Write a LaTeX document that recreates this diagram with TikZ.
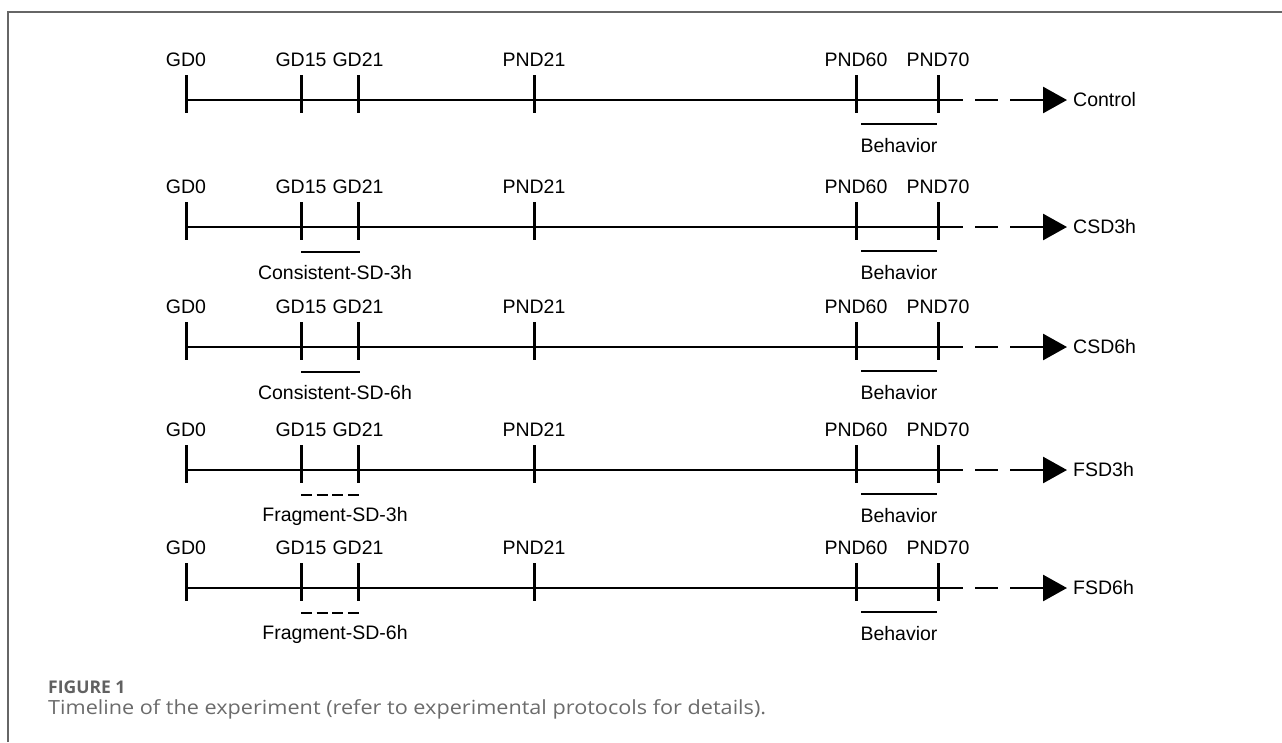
\documentclass[tikz,border=0pt]{standalone}
\usepackage{fontspec}
\setmainfont{Liberation Sans}
\newfontfamily\captionfont[FakeStretch=1.11]{Open Sans}
\newfontfamily\fignofont{Open Sans}
\usetikzlibrary{arrows.meta,positioning}

\begin{document}
\begin{tikzpicture}[x=1pt, y=-1pt,
    axis/.style={line width=2.8pt},
    tick/.style={line width=3pt},
    period/.style={line width=1.5pt},
    fragment/.style={period, dash pattern=on 11pt off 4.6pt},
    daylabel/.style={font=\fontsize{19.5}{22}\selectfont, inner sep=0pt},
    grouplabel/.style={daylabel, anchor=west},
    frame/.style={draw=black!60, line width=1.2pt},
    captiontext/.style={font=\captionfont\fontsize{19.5}{22}\selectfont, text=black!58, anchor=west, inner sep=0pt}]
    \useasboundingbox (0,0) rectangle (1282,742);
    \draw[frame] (8,742) -- (8,12) -- (1282,12);

    % one timeline per group
    \foreach \ay/\grp [count=\r] in {100/Control, 227/CSD3h, 347/CSD6h, 470/FSD3h, 588/FSD6h}
    {
        \foreach \x/\day in {186/GD0, 301/GD15, 358/GD21, 534/PND21, 856/PND60, 938/PND70}
        {
            \node (\day-lbl-\r) [daylabel] at (\x,\ay-40) {\day};
            \coordinate (\day-\r) at (\x,\ay);
            \draw[tick] (\x,\ay-25) -- (\x,\ay+13);
        }
        \node (grp-\r) [grouplabel] at (1073,\ay) {\grp};
        \draw[axis] (GD0-\r) -- (PND70-\r);
        \draw[axis, dash pattern=on 25pt off 12pt on 23pt off 12pt on 120pt,
              -{Triangle[length=24pt,width=26pt]}, shorten >=6pt] (PND70-\r) -- (grp-\r.west);

        % behavior window
        \coordinate (beh-a-\r) at (861,\ay+24);
        \coordinate (beh-b-\r) at (937,\ay+24);
        \draw[period] (beh-a-\r) -- (beh-b-\r);
        \node (beh-\r) [daylabel] at (899,\ay+46) {Behavior};
    }

    % sleep deprivation windows
    \foreach \ay/\sdstyle/\sdtext [count=\r from 2] in {227/period/Consistent-SD-3h, 347/period/Consistent-SD-6h,
        470/fragment/Fragment-SD-3h, 588/fragment/Fragment-SD-6h}
    {
        \coordinate (sd-a-\r) at (301,\ay+25);
        \coordinate (sd-b-\r) at (360,\ay+25);
        \draw[\sdstyle] (sd-a-\r) -- (sd-b-\r);
        \node (sd-\r) [daylabel] at (335,\ay+46) {\sdtext};
    }

    \node (figno) [captiontext, font=\fignofont\bfseries\fontsize{17.5}{20}\selectfont, text=black!62] at (48,687) {FIGURE 1};
    \node (caption) [captiontext, below=6pt of figno.south west, anchor=north west] {Timeline of the experiment (refer to experimental protocols for details).};
\end{tikzpicture}
\end{document}
